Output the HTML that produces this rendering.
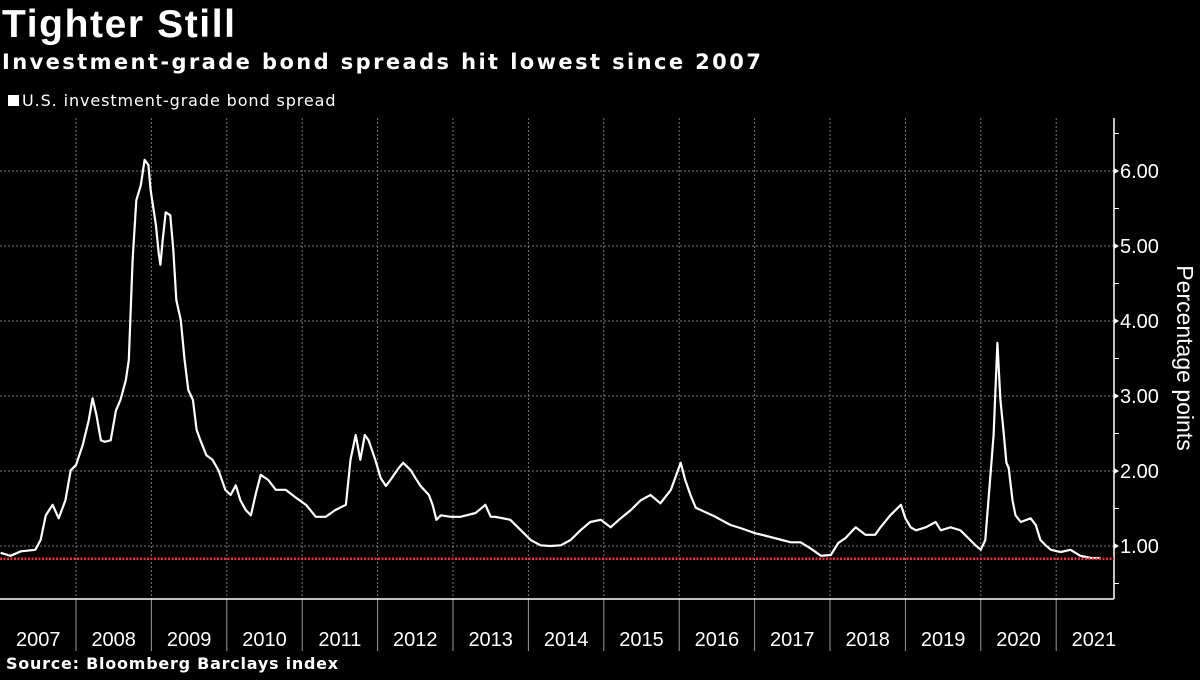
<!DOCTYPE html>
<html><head><meta charset="utf-8"><style>
body{margin:0;background:#000;width:1200px;height:675px;overflow:hidden;font-family:"Liberation Sans","DejaVu Sans",sans-serif;color:#fff}
</style></head><body>
<svg width="1200" height="675">
<text x="2" y="37" font-size="39" font-weight="bold" letter-spacing="1.6" fill="#fff">Tighter Still</text>
<text x="2" y="69" font-size="21" font-weight="bold" letter-spacing="2.4" fill="#fff" font-family="DejaVu Sans, sans-serif">Investment-grade bond spreads hit lowest since 2007</text>
<rect x="8" y="95" width="11" height="11" fill="#fff"/>
<text x="22" y="106" font-size="16" letter-spacing="0.9" fill="#fff" font-family="DejaVu Sans, sans-serif">U.S. investment-grade bond spread</text>
<g id="grid"></g><g id="axes"></g>
<path id="line" fill="none" stroke="#fff" stroke-width="2.2" stroke-linejoin="round"/>
<line id="ref" stroke="#ff2a3c" stroke-width="2.5" stroke-dasharray="2,1.5"/>
<text transform="translate(1177,358) rotate(90)" text-anchor="middle" font-size="23" fill="#fff">Percentage points</text>
<text x="6" y="669" font-size="16" font-weight="bold" letter-spacing="0.75" fill="#fff" font-family="DejaVu Sans, sans-serif">Source: Bloomberg Barclays index</text>
</svg>
<script>
const years=[2007,2008,2009,2010,2011,2012,2013,2014,2015,2016,2017,2018,2019,2020,2021];
const yTicks=[1,2,3,4,5,6];
const yTickLabels=["1.00","2.00","3.00","4.00","5.00","6.00"];
const refValue=0.83;
const dates=[2007.0,2007.13,2007.27,2007.46,2007.53,2007.60,2007.69,2007.77,2007.86,2007.93,2008.0,2008.09,2008.17,2008.22,2008.27,2008.33,2008.38,2008.46,2008.53,2008.59,2008.66,2008.70,2008.75,2008.80,2008.86,2008.91,2008.96,2008.99,2009.06,2009.10,2009.12,2009.15,2009.19,2009.25,2009.29,2009.33,2009.39,2009.44,2009.49,2009.55,2009.60,2009.65,2009.73,2009.81,2009.89,2009.98,2010.05,2010.12,2010.18,2010.25,2010.32,2010.38,2010.45,2010.55,2010.65,2010.78,2010.91,2011.05,2011.18,2011.31,2011.44,2011.58,2011.64,2011.71,2011.77,2011.83,2011.88,2011.97,2012.04,2012.11,2012.17,2012.28,2012.34,2012.44,2012.50,2012.57,2012.68,2012.73,2012.78,2012.84,2012.97,2013.10,2013.30,2013.43,2013.50,2013.56,2013.76,2013.90,2014.03,2014.16,2014.29,2014.43,2014.56,2014.69,2014.82,2014.96,2015.09,2015.20,2015.36,2015.49,2015.62,2015.75,2015.89,2016.02,2016.08,2016.15,2016.22,2016.35,2016.48,2016.68,2016.81,2017.01,2017.21,2017.48,2017.61,2017.74,2017.88,2018.01,2018.11,2018.21,2018.34,2018.47,2018.60,2018.67,2018.80,2018.94,2019.00,2019.07,2019.14,2019.27,2019.40,2019.47,2019.60,2019.73,2019.86,2019.93,2020.00,2020.06,2020.17,2020.22,2020.26,2020.30,2020.34,2020.37,2020.42,2020.46,2020.53,2020.66,2020.73,2020.79,2020.86,2020.93,2021.06,2021.19,2021.32,2021.46,2021.59,2021.72];
const values=[0.91,0.87,0.93,0.95,1.08,1.41,1.55,1.37,1.61,2.01,2.08,2.35,2.68,2.97,2.75,2.41,2.39,2.41,2.81,2.95,3.21,3.48,4.81,5.61,5.81,6.15,6.08,5.75,5.28,4.88,4.75,5.08,5.45,5.41,4.95,4.28,4.01,3.48,3.08,2.95,2.55,2.41,2.21,2.15,2.01,1.75,1.68,1.81,1.61,1.48,1.41,1.68,1.95,1.88,1.75,1.75,1.65,1.55,1.39,1.39,1.48,1.55,2.15,2.48,2.15,2.48,2.41,2.15,1.91,1.80,1.88,2.04,2.11,2.01,1.91,1.80,1.68,1.55,1.35,1.41,1.39,1.39,1.44,1.55,1.39,1.39,1.35,1.21,1.08,1.01,1.00,1.01,1.08,1.21,1.32,1.35,1.25,1.35,1.48,1.61,1.68,1.57,1.75,2.11,1.88,1.68,1.51,1.45,1.39,1.28,1.24,1.17,1.12,1.05,1.05,0.97,0.87,0.88,1.04,1.11,1.25,1.15,1.15,1.25,1.41,1.55,1.37,1.25,1.21,1.25,1.32,1.21,1.25,1.21,1.08,1.01,0.95,1.08,2.48,3.71,2.95,2.55,2.11,2.04,1.61,1.41,1.32,1.37,1.28,1.08,1.01,0.95,0.92,0.95,0.87,0.84,0.84];
const NS='http://www.w3.org/2000/svg';
const X0=0.6,XW=75.4,Y0=621,YK=75,TOP=118,BOT=599,RIGHT=1114;
const xs=t=>X0+(t-2007)*XW, ys=v=>Y0-v*YK;
const grid=document.getElementById('grid'),axes=document.getElementById('axes');
function mk(tag,attrs,parent){const e=document.createElementNS(NS,tag);for(const k in attrs)e.setAttribute(k,attrs[k]);parent.appendChild(e);return e;}
yTicks.forEach((v,i)=>{
 const g=mk('line',{x1:0,x2:RIGHT,y1:ys(v),y2:ys(v),stroke:'#777','stroke-width':1,'stroke-dasharray':'2,2'},grid);
 
 
 const tk=mk('path',{d:`M${RIGHT},${ys(v)-3}L${RIGHT+5},${ys(v)}L${RIGHT},${ys(v)+3}Z`,fill:'#fff'},axes);
 
 
 const t=mk('text',{x:RIGHT+6,y:ys(v)+7,'font-size':20,fill:'#fff'},axes);t.textContent=yTickLabels[i];
 
 
});
[0.5,1.5,2.5,3.5,4.5,5.5,6.5].forEach(v=>{const m=mk('line',{x1:RIGHT,x2:RIGHT+5,y1:ys(v),y2:ys(v),stroke:'#fff'},axes);
 
 });
years.forEach((yr,i)=>{
 if(i>0){const x=xs(yr);
  const g=mk('line',{x1:x,x2:x,y1:TOP,y2:BOT,stroke:'#777','stroke-width':1,'stroke-dasharray':'2,2'},grid);
  
  
  const s=mk('line',{x1:x,x2:x,y1:BOT,y2:651,stroke:'#999','stroke-width':1},axes);
  
  }
 const t=mk('text',{x:xs(yr+0.5),y:646,'font-size':20,fill:'#fff','text-anchor':'middle'},axes);t.textContent=yr;
 
 
});
const xa=mk('line',{x1:0,x2:RIGHT,y1:BOT,y2:BOT,stroke:'#fff','stroke-width':1.5},axes);


const ya=mk('line',{x1:RIGHT,x2:RIGHT,y1:TOP,y2:BOT,stroke:'#fff','stroke-width':1.5},axes);


document.getElementById('line').setAttribute('d',dates.map((t,i)=>(i?'L':'M')+xs(t).toFixed(1)+','+ys(values[i]).toFixed(1)).join(''));
const r=document.getElementById('ref');
r.setAttribute('x1',0);r.setAttribute('x2',RIGHT);r.setAttribute('y1',ys(refValue));r.setAttribute('y2',ys(refValue));
</script>
</body></html>
